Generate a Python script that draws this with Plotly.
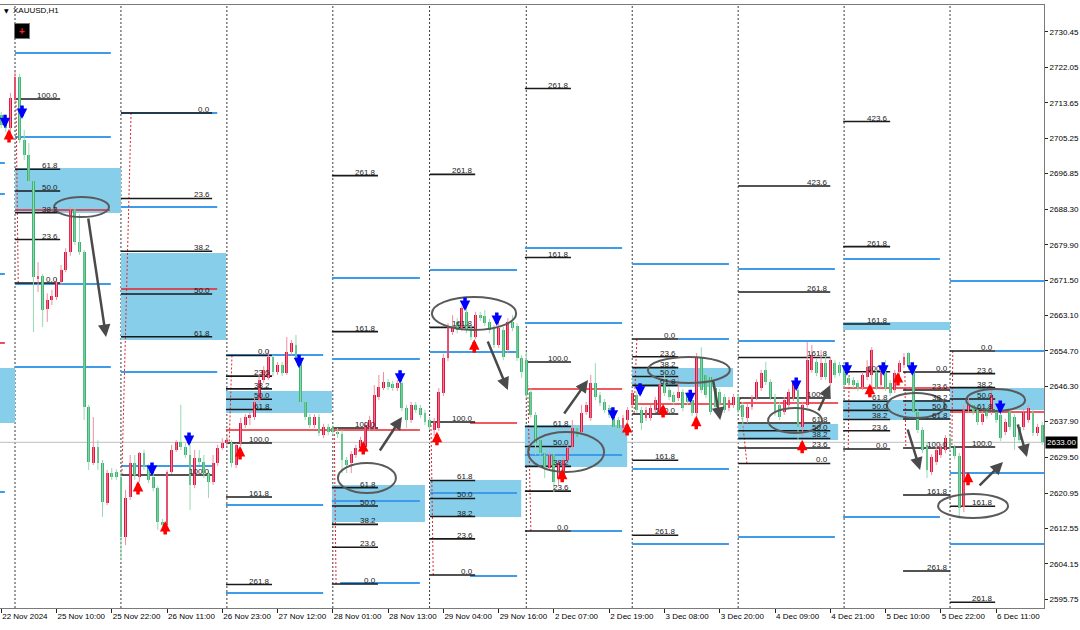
import plotly.graph_objects as go

# ---------------- candles: XAUUSD H1 (bar index 0 = 22 Nov 21:00) ----------------
opens = [
 2710.7, 2710.0, 2707.6, 2714.3, 2719.8, 2704.8, 2701.2, 2695.1, 2671.8, 2672.5,
 2664.7, 2666.8, 2667.5, 2671.1, 2673.9, 2678.2, 2688.2, 2680.6, 2678.2, 2641.4,
 2628.1, 2631.9, 2628.1, 2618.6, 2625.7, 2625.9, 2624.8, 2610.5, 2620.0, 2628.1,
 2624.8, 2630.4, 2627.1, 2624.8, 2622.1, 2614.1, 2613.4, 2625.9, 2631.2, 2633.1,
 2631.9, 2630.0, 2622.9, 2629.3, 2628.3, 2625.7, 2623.6, 2628.1, 2631.6, 2632.8,
 2632.8, 2627.6, 2632.8, 2637.1, 2638.8, 2639.0, 2643.0, 2647.8, 2648.3, 2653.3,
 2649.7, 2651.4, 2649.5, 2654.4, 2656.1, 2652.5, 2642.6, 2639.0, 2637.1, 2639.0,
 2634.7, 2636.6, 2636.4, 2635.5, 2635.0, 2628.8, 2628.1, 2630.0, 2631.6, 2631.9,
 2636.4, 2636.4, 2643.8, 2645.9, 2647.3, 2646.9, 2645.9, 2647.1, 2641.2, 2638.3,
 2641.9, 2641.2, 2640.0, 2638.3, 2635.9, 2636.4, 2644.7, 2653.0, 2659.2, 2661.6,
 2660.2, 2663.9, 2660.2, 2658.0, 2663.2, 2663.0, 2661.6, 2660.2, 2656.1, 2659.7,
 2654.9, 2661.6, 2660.6, 2653.0, 2652.5, 2645.0, 2639.5, 2633.5, 2630.4, 2626.9,
 2630.0, 2624.5, 2625.2, 2628.8, 2631.9, 2636.4, 2635.5, 2640.2, 2638.8, 2647.1,
 2644.2, 2642.6, 2641.2, 2640.0, 2638.3, 2636.4, 2638.3, 2641.9, 2644.2, 2640.7,
 2638.8, 2638.8, 2640.7, 2640.2, 2646.6, 2645.4, 2644.2, 2643.5, 2644.9, 2644.2,
 2643.0, 2640.0, 2653.0, 2649.0, 2648.5, 2645.9, 2644.9, 2643.8, 2641.2, 2641.9,
 2643.8, 2641.9, 2638.8, 2641.4, 2643.8, 2645.9, 2650.2, 2647.3, 2643.8, 2641.9,
 2640.2, 2641.9, 2643.5, 2645.4, 2636.6, 2641.9, 2650.2, 2652.1, 2648.5, 2651.8,
 2647.1, 2651.8, 2651.4, 2650.9, 2648.3, 2647.8, 2647.1, 2646.1, 2648.5, 2649.0,
 2649.5, 2646.6, 2649.7, 2647.1, 2645.4, 2649.7, 2651.4, 2654.2, 2650.2, 2640.2,
 2635.9, 2632.4, 2625.9, 2628.3, 2630.0, 2631.2, 2634.0, 2631.6, 2629.8, 2617.6,
 2640.7, 2641.9, 2640.7, 2637.8, 2641.2, 2640.2, 2640.7, 2639.5, 2635.5, 2640.2,
 2639.0, 2636.6, 2636.6, 2638.3, 2640.0, 2635.2, 2637.1]
closes = [
 2708.4, 2707.6, 2714.8, 2719.8, 2704.8, 2701.2, 2695.1, 2672.3, 2672.5, 2664.4,
 2666.8, 2667.8, 2671.1, 2673.9, 2678.2, 2688.2, 2680.6, 2678.2, 2641.4, 2628.3,
 2631.9, 2628.1, 2618.8, 2625.7, 2624.8, 2624.8, 2610.5, 2619.8, 2628.1, 2625.2,
 2630.4, 2627.1, 2624.1, 2622.1, 2614.1, 2613.4, 2625.9, 2631.2, 2633.1, 2631.9,
 2630.0, 2622.9, 2629.3, 2628.3, 2625.7, 2623.6, 2628.1, 2631.6, 2632.8, 2633.5,
 2628.1, 2632.4, 2637.6, 2639.0, 2639.5, 2642.6, 2647.8, 2650.2, 2653.3, 2649.7,
 2651.4, 2649.5, 2654.4, 2656.6, 2653.0, 2642.6, 2639.0, 2637.1, 2639.0, 2635.2,
 2636.6, 2635.5, 2635.5, 2635.0, 2628.8, 2627.6, 2630.2, 2631.6, 2633.5, 2637.1,
 2638.3, 2644.2, 2646.1, 2647.3, 2646.1, 2645.9, 2647.1, 2641.2, 2638.3, 2641.9,
 2640.7, 2639.5, 2637.8, 2636.6, 2637.8, 2644.9, 2653.0, 2660.2, 2660.4, 2659.7,
 2664.9, 2659.7, 2658.0, 2663.2, 2662.5, 2661.3, 2659.7, 2656.1, 2660.2, 2653.3,
 2661.6, 2660.2, 2653.0, 2649.7, 2644.2, 2639.5, 2632.8, 2630.4, 2627.1, 2630.0,
 2623.6, 2628.1, 2628.8, 2631.6, 2636.4, 2634.3, 2640.0, 2641.9, 2647.1, 2643.8,
 2642.3, 2640.7, 2639.5, 2636.6, 2636.4, 2638.8, 2640.7, 2644.7, 2640.7, 2637.6,
 2640.7, 2641.2, 2643.0, 2646.6, 2644.7, 2643.8, 2642.6, 2644.9, 2641.2, 2642.6,
 2640.0, 2653.0, 2645.4, 2644.2, 2640.2, 2641.4, 2642.3, 2640.7, 2643.0, 2643.8,
 2640.7, 2639.0, 2641.4, 2643.5, 2647.3, 2649.5, 2647.3, 2643.8, 2640.0, 2639.0,
 2643.0, 2644.9, 2647.1, 2636.6, 2641.9, 2652.5, 2653.7, 2649.5, 2651.8, 2648.5,
 2652.5, 2649.0, 2649.5, 2646.6, 2647.1, 2646.6, 2645.9, 2649.0, 2650.9, 2654.9,
 2646.1, 2649.5, 2645.9, 2644.7, 2649.5, 2651.8, 2653.3, 2650.9, 2640.2, 2635.9,
 2631.2, 2626.4, 2629.5, 2631.2, 2631.9, 2634.0, 2631.6, 2629.8, 2617.4, 2640.7,
 2642.1, 2640.2, 2637.8, 2639.7, 2639.3, 2644.2, 2638.3, 2634.0, 2637.8, 2636.6,
 2634.3, 2633.5, 2640.2, 2641.2, 2635.2, 2636.6, 2633.0]
highs = [
 2711.5, 2710.7, 2716.0, 2721.0, 2720.5, 2707.2, 2704.1, 2695.3, 2675.8, 2673.0,
 2668.4, 2669.2, 2672.0, 2675.1, 2679.1, 2688.9, 2688.9, 2687.2, 2678.7, 2641.9,
 2639.0, 2633.5, 2628.8, 2626.4, 2626.9, 2626.6, 2625.9, 2621.7, 2630.0, 2630.0,
 2630.7, 2631.2, 2627.9, 2625.9, 2622.6, 2614.8, 2626.4, 2632.4, 2633.5, 2641.9,
 2632.8, 2632.4, 2631.2, 2631.2, 2630.0, 2626.4, 2630.0, 2632.4, 2634.0, 2634.5,
 2633.5, 2632.8, 2638.8, 2639.7, 2640.2, 2643.5, 2649.0, 2651.1, 2654.9, 2653.7,
 2652.1, 2652.1, 2658.0, 2657.3, 2658.5, 2653.0, 2643.0, 2639.7, 2639.7, 2639.7,
 2637.4, 2637.4, 2637.1, 2636.4, 2635.9, 2629.5, 2630.9, 2632.4, 2634.3, 2637.8,
 2639.3, 2646.6, 2649.0, 2649.7, 2648.0, 2647.6, 2647.8, 2647.6, 2641.9, 2642.6,
 2642.6, 2641.9, 2640.7, 2639.0, 2638.8, 2645.9, 2654.0, 2661.3, 2663.2, 2662.5,
 2665.4, 2664.7, 2660.9, 2664.0, 2664.0, 2664.4, 2662.3, 2660.9, 2661.6, 2660.4,
 2662.5, 2663.2, 2661.3, 2653.7, 2654.4, 2645.7, 2640.2, 2634.3, 2631.2, 2630.7,
 2630.7, 2628.8, 2629.5, 2632.4, 2638.3, 2637.1, 2641.9, 2642.6, 2649.0, 2651.8,
 2645.0, 2643.3, 2641.9, 2640.7, 2639.0, 2639.5, 2641.4, 2645.4, 2645.0, 2641.4,
 2641.4, 2641.9, 2643.8, 2647.3, 2650.2, 2646.1, 2645.0, 2648.3, 2645.7, 2645.0,
 2643.8, 2654.2, 2655.6, 2649.7, 2649.2, 2646.6, 2645.7, 2644.5, 2643.8, 2644.5,
 2644.5, 2642.6, 2642.1, 2644.2, 2648.0, 2650.2, 2652.1, 2648.0, 2644.5, 2642.6,
 2643.8, 2645.7, 2647.8, 2647.1, 2642.6, 2656.8, 2656.1, 2652.8, 2654.9, 2654.4,
 2653.3, 2652.5, 2652.1, 2652.1, 2649.0, 2648.5, 2647.8, 2649.7, 2652.5, 2655.6,
 2650.2, 2650.2, 2652.5, 2647.8, 2650.2, 2652.5, 2654.2, 2654.4, 2650.9, 2640.9,
 2636.6, 2633.1, 2630.2, 2631.9, 2632.6, 2634.7, 2634.7, 2632.4, 2630.5, 2641.9,
 2643.5, 2642.6, 2641.4, 2640.4, 2641.9, 2645.4, 2641.4, 2640.2, 2638.6, 2640.9,
 2639.7, 2637.4, 2640.9, 2641.9, 2640.7, 2637.4, 2637.8]
lows = [
 2707.6, 2706.7, 2706.7, 2713.8, 2704.1, 2700.0, 2694.1, 2659.2, 2668.7, 2660.4,
 2661.6, 2665.6, 2666.8, 2670.4, 2673.4, 2677.3, 2679.9, 2677.5, 2638.3, 2626.4,
 2627.6, 2626.4, 2615.3, 2618.1, 2624.1, 2624.1, 2605.0, 2608.6, 2619.3, 2624.1,
 2623.6, 2626.4, 2623.3, 2621.4, 2612.2, 2612.6, 2612.6, 2625.5, 2630.7, 2631.2,
 2629.3, 2616.9, 2622.1, 2627.6, 2624.5, 2619.8, 2622.9, 2627.4, 2631.2, 2632.1,
 2627.1, 2626.9, 2632.1, 2636.4, 2637.1, 2638.3, 2642.3, 2647.1, 2647.8, 2648.7,
 2649.0, 2648.7, 2649.0, 2653.7, 2652.5, 2641.9, 2638.3, 2636.4, 2636.4, 2634.5,
 2634.0, 2634.7, 2634.7, 2634.0, 2625.7, 2625.7, 2625.7, 2629.3, 2630.7, 2630.7,
 2635.7, 2635.9, 2643.0, 2645.4, 2645.4, 2645.2, 2645.2, 2640.4, 2636.4, 2637.6,
 2640.0, 2638.8, 2637.1, 2635.9, 2634.5, 2635.7, 2644.0, 2652.3, 2658.5, 2658.9,
 2659.4, 2658.9, 2657.3, 2657.5, 2661.8, 2660.6, 2658.9, 2655.4, 2655.4, 2652.5,
 2654.2, 2659.4, 2652.3, 2648.3, 2643.5, 2638.8, 2630.0, 2629.8, 2624.5, 2626.2,
 2621.2, 2622.9, 2624.5, 2628.1, 2631.2, 2633.5, 2634.7, 2639.5, 2638.1, 2643.0,
 2641.6, 2640.0, 2638.8, 2635.9, 2635.7, 2635.7, 2637.8, 2641.2, 2640.0, 2635.9,
 2638.1, 2638.1, 2640.0, 2639.7, 2644.0, 2643.0, 2641.9, 2642.8, 2640.4, 2641.9,
 2639.3, 2638.8, 2644.7, 2643.5, 2639.5, 2640.7, 2641.6, 2640.0, 2640.4, 2641.2,
 2640.0, 2636.6, 2637.6, 2640.7, 2643.0, 2645.2, 2646.6, 2643.0, 2639.3, 2638.3,
 2639.5, 2641.2, 2642.8, 2633.5, 2634.3, 2641.2, 2649.5, 2648.7, 2647.8, 2647.8,
 2646.4, 2648.3, 2648.7, 2645.9, 2646.4, 2645.9, 2645.2, 2645.4, 2647.8, 2645.0,
 2645.4, 2645.9, 2645.2, 2644.0, 2644.7, 2649.0, 2650.7, 2650.2, 2639.5, 2635.2,
 2630.4, 2624.5, 2625.2, 2627.6, 2629.3, 2630.4, 2630.9, 2629.0, 2615.0, 2616.4,
 2640.0, 2639.5, 2637.1, 2637.1, 2638.6, 2639.5, 2637.6, 2633.3, 2634.7, 2635.9,
 2631.2, 2632.8, 2635.9, 2637.6, 2634.5, 2634.5, 2632.4]

# ---------------- axes ----------------
time_label_bars = [0, 12, 24, 36, 48, 60, 72, 84, 96, 108, 120, 132, 144, 156, 168, 180, 192, 204, 216]
time_labels = ["22 Nov 2024", "25 Nov 10:00", "25 Nov 22:00", "26 Nov 11:00", "26 Nov 23:00",
               "27 Nov 12:00", "28 Nov 01:00", "28 Nov 13:00", "29 Nov 04:00", "29 Nov 16:00",
               "2 Dec 07:00", "2 Dec 19:00", "3 Dec 08:00", "3 Dec 20:00", "4 Dec 09:00",
               "4 Dec 21:00", "5 Dec 10:00", "5 Dec 22:00", "6 Dec 11:00"]
price_ticks = [2730.45, 2722.05, 2713.65, 2705.25, 2696.85, 2688.30, 2679.90, 2671.50, 2663.10,
               2654.70, 2646.30, 2637.90, 2629.50, 2620.95, 2612.55, 2604.15, 2595.75]
x_range = [-0.26, 226.4]
y_range = [2593.65, 2736.86]
day_start_bars = [3, 26, 49, 72, 93, 114, 137, 160, 183, 206]
bid_price = 2633.00

# ---------------- Fibonacci tools ----------------
fib_x0 = [3.0, 26.0, 48.8, 71.8, 93.1, 113.7, 137.0, 160.0, 182.8, 195.8, 206.0]
fib_x1 = [12.8, 45.8, 58.8, 81.8, 102.9, 123.7, 147.0, 180.0, 193.0, 206.0, 215.8]
fib_p0 = [2670.84, 2711.21, 2653.62, 2599.35, 2601.49, 2611.94, 2657.54, 2627.97, 2631.41, 2649.70, 2654.69]
fib_p100 = [2714.54, 2625.24, 2632.84, 2636.40, 2637.83, 2652.08, 2639.73, 2643.53, 2649.77, 2631.65, 2631.89]
lv_a = [0, 23.6, 38.2, 50, 61.8, 100]
lv_b = [0, 23.6, 38.2, 50, 61.8, 100, 161.8, 261.8]
lv_c = [0, 23.6, 38.2, 50, 61.8, 100, 161.8, 261.8, 423.6]
fib_levels = [lv_a, lv_a, lv_b, lv_b, lv_b, lv_b, lv_b, lv_c, lv_c, lv_b, lv_b]
fib_trend_x0 = [3.7, 28.2, 50.1, 72.7, 93.8, 115.0, 138.0, 161.9, 183.9, 196.2, 206.6]
fib_trend_x1 = [3.2, 26.2, 49.5, 72.3, 93.3, 114.2, 137.4, 160.4, 184.1, 196.4, 206.4]

# ---------------- horizontal blue levels ----------------
blue_x0 = [-0.3, -0.3, -0.3, -0.3,
           3.0, 3.0, 3.0, 3.0,
           26.0, 26.0, 26.0, 26.0,
           48.8, 48.8, 48.8,
           71.8, 71.8, 71.8, 73.6,
           93.1, 93.1, 93.1, 101.8,
           113.7, 113.7, 113.7, 123.7,
           137.0, 147.0, 137.0, 137.0,
           160.0, 160.0, 160.0,
           182.8, 182.8,
           206.0, 215.8, 206.0, 206.0]
blue_x1 = [0.8, 0.8, 0.8, 0.8,
           23.8, 23.8, 23.8, 23.8,
           46.9, 46.9, 46.9, 46.4,
           69.9, 69.9, 69.9,
           90.9, 90.9, 90.9, 90.9,
           112.0, 112.0, 112.0, 112.0,
           134.8, 134.8, 134.8, 134.8,
           158.0, 158.0, 158.0, 158.0,
           181.0, 181.0, 181.0,
           203.8, 203.8,
           226.4, 226.4, 226.4, 226.4]
blue_p = [2699.34, 2691.98, 2672.97, 2621.20,
          2725.46, 2705.51, 2670.60, 2650.89,
          2711.21, 2688.89, 2649.70, 2627.38,
          2653.74, 2618.11, 2597.21,
          2672.03, 2652.79, 2619.06, 2599.59,
          2673.93, 2654.45, 2620.96, 2601.25,
          2679.15, 2661.34, 2629.99, 2611.94,
          2675.35, 2657.54, 2626.66, 2608.85,
          2674.16, 2657.06, 2610.51,
          2676.54, 2615.26,
          2671.31, 2654.69, 2625.71, 2608.85]

# ---------------- blue zones ----------------
zone_x0 = [-0.3, 3.0, 26.0, 48.8, 71.8, 93.1, 113.7, 137.0, 160.0, 182.8, 182.8, 206.0]
zone_x1 = [3.0, 26.0, 48.8, 71.8, 92.0, 112.9, 135.9, 158.9, 181.7, 206.0, 206.0, 226.4]
zone_top = [2650.65, 2698.15, 2677.96, 2645.19, 2622.86, 2624.05, 2637.11, 2650.65, 2637.35, 2661.58, 2643.05, 2645.90]
zone_bottom = [2637.59, 2687.46, 2657.30, 2639.96, 2614.08, 2615.26, 2627.14, 2646.14, 2633.55, 2659.68, 2638.30, 2640.68]

# ---------------- red levels ----------------
red_x0 = [-0.3, 3.0, 26.0, 48.8, 101.8, 113.7, 137.0, 160.0, 182.8, 206.0]
red_x1 = [0.8, 23.6, 46.9, 90.9, 112.0, 134.8, 158.9, 181.7, 206.0, 226.4]
red_p = [2656.59, 2688.18, 2669.41, 2635.93, 2637.59, 2645.66, 2642.10, 2642.34, 2645.90, 2640.20]

# ---------------- ellipses ----------------
ell_x0 = [11.5, 73.1, 93.5, 114.4, 140.4, 166.5, 192.3, 209.5, 203.4]
ell_x1 = [23.4, 85.7, 111.8, 130.9, 158.2, 178.2, 204.9, 222.3, 218.6]
ell_top = [2691.26, 2628.09, 2667.51, 2635.45, 2653.26, 2641.15, 2644.71, 2645.66, 2620.73]
ell_bottom = [2686.51, 2620.96, 2659.68, 2625.95, 2647.09, 2635.21, 2638.78, 2640.44, 2615.02]

# ---------------- grey trend arrows (tail -> head) ----------------
arr_x0 = [18.85, 82.0, 105.5, 122.0, 154.5, 177.3, 196.7, 212.1, 220.6]
arr_p0 = [2686.51, 2630.70, 2657.30, 2639.49, 2648.04, 2640.20, 2636.40, 2622.39, 2637.59]
arr_x1 = [22.76, 87.0, 110.0, 127.4, 156.1, 180.0, 199.5, 217.5, 222.7]
arr_p1 = [2658.01, 2639.01, 2645.43, 2647.80, 2638.30, 2646.61, 2626.43, 2628.33, 2629.51]

# ---------------- signal arrows ----------------
sell_bar = [0.83, 4.52, 32.74, 40.78, 64.66, 86.6, 100.7, 107.6, 132.8, 138.7, 149.6, 172.6, 183.6, 191.5, 197.8, 216.9]
sell_price = [2707.6, 2709.8, 2625.0, 2632.1, 2650.6, 2646.9, 2664.2, 2660.6, 2638.1, 2643.8, 2642.3, 2645.2, 2648.8, 2648.8, 2648.8, 2639.7]
buy_bar = [1.70, 29.7, 35.6, 51.85, 78.6, 94.6, 102.7, 121.8, 135.9, 143.7, 150.9, 173.9, 188.6, 194.7, 209.9]
buy_price = [2707.4, 2623.8, 2614.3, 2632.1, 2633.3, 2635.5, 2657.5, 2626.7, 2637.8, 2642.1, 2639.3, 2633.6, 2646.9, 2649.7, 2626.0]

# =====================================================================
UP_BODY, DN_BODY = "#dc143c", "#3cb371"
UP_WICK, DN_WICK = "#ee8fa3", "#97d9b2"
FONT = "Liberation Sans, Arial, sans-serif"

n = len(closes)
fig = go.Figure()

up_idx = [i for i in range(n) if closes[i] >= opens[i]]
dn_idx = [i for i in range(n) if closes[i] < opens[i]]


def wick_xy(ids):
    xs, ys = [], []
    for i in ids:
        hi = max(highs[i], opens[i], closes[i])
        lo = min(lows[i], opens[i], closes[i])
        xs += [i, i, None]
        ys += [lo, hi, None]
    return xs, ys


for ids, col in ((up_idx, UP_WICK), (dn_idx, DN_WICK)):
    wx, wy = wick_xy(ids)
    fig.add_trace(go.Scatter(x=wx, y=wy, mode="lines", line=dict(color=col, width=1),
                             hoverinfo="skip"))

for ids, col in ((up_idx, UP_BODY), (dn_idx, DN_BODY)):
    fig.add_trace(go.Bar(
        x=ids,
        base=[min(opens[i], closes[i]) for i in ids],
        y=[max(abs(closes[i] - opens[i]), 0.3) for i in ids],
        width=0.62,
        marker=dict(color=col, line=dict(width=0)),
        hoverinfo="skip"))

shapes = []
for a, b, t, bt in zip(zone_x0, zone_x1, zone_top, zone_bottom):
    shapes.append(dict(type="rect", xref="x", yref="y", x0=a, x1=b, y0=bt, y1=t,
                       fillcolor="#87ceeb", line=dict(width=0), layer="below"))
for s in day_start_bars:
    shapes.append(dict(type="line", xref="x", yref="paper", x0=s, x1=s, y0=0, y1=1,
                       line=dict(color="#3a3a3a", width=1, dash="2px,2px"), layer="below"))
shapes.append(dict(type="line", xref="paper", yref="y", x0=0, x1=1, y0=bid_price, y1=bid_price,
                   line=dict(color="#bdbdbd", width=1), layer="below"))
for a, b, p in zip(blue_x0, blue_x1, blue_p):
    shapes.append(dict(type="line", xref="x", yref="y", x0=a, x1=b, y0=p, y1=p,
                       line=dict(color="#3d9be9", width=2), layer="below"))
for a, b, p in zip(red_x0, red_x1, red_p):
    shapes.append(dict(type="line", xref="x", yref="y", x0=a, x1=b, y0=p, y1=p,
                       line=dict(color="#e8232b", width=1.6), layer="below"))
annotations = []
for k in range(len(fib_x0)):
    p0, p100 = fib_p0[k], fib_p100[k]
    shapes.append(dict(type="line", xref="x", yref="y", x0=fib_trend_x0[k], x1=fib_trend_x1[k],
                       y0=p0, y1=p100, line=dict(color="#e8232b", width=1, dash="2px,2px"),
                       layer="below"))
    for lv in fib_levels[k]:
        p = p0 + (p100 - p0) * lv / 100.0
        shapes.append(dict(type="line", xref="x", yref="y", x0=fib_x0[k], x1=fib_x1[k],
                           y0=p, y1=p, line=dict(color="#1a1a1a", width=1.6), layer="below"))
        annotations.append(dict(x=fib_x1[k], y=p, xref="x", yref="y", text=f"{lv:.1f}",
                                showarrow=False, xanchor="right", yanchor="bottom", yshift=-3,
                                font=dict(family=FONT, size=8, color="#1a1a1a")))
for a, b, t, bt in zip(ell_x0, ell_x1, ell_top, ell_bottom):
    shapes.append(dict(type="circle", xref="x", yref="y", x0=a, x1=b, y0=bt, y1=t,
                       line=dict(color="#5a5a5a", width=2)))

for a, pa, b, pb in zip(arr_x0, arr_p0, arr_x1, arr_p1):
    annotations.append(dict(x=b, y=pb, ax=a, ay=pa, xref="x", yref="y", axref="x", ayref="y",
                            text="", showarrow=True, arrowhead=2, arrowsize=1, arrowwidth=2.5,
                            arrowcolor="#4a4a4a", standoff=0))
for b, p in zip(sell_bar, sell_price):
    annotations.append(dict(x=b, y=p, xref="x", yref="y", ax=0, ay=-15, text="",
                            showarrow=True, arrowhead=2, arrowsize=0.6, arrowwidth=3.5,
                            arrowcolor="#0000ff", standoff=0))
for b, p in zip(buy_bar, buy_price):
    annotations.append(dict(x=b, y=p, xref="x", yref="y", ax=0, ay=15, text="",
                            showarrow=True, arrowhead=2, arrowsize=0.6, arrowwidth=3.5,
                            arrowcolor="#ff0000", standoff=0))

annotations.append(dict(xref="paper", yref="paper", x=0.002, y=0.991, text="▼",
                        showarrow=False, xanchor="left", yanchor="middle",
                        font=dict(family="DejaVu Sans", size=6, color="black")))
annotations.append(dict(xref="paper", yref="paper", x=0.0105, y=0.991, text="XAUUSD,H1",
                        showarrow=False, xanchor="left", yanchor="middle",
                        font=dict(family=FONT, size=8, color="black")))
annotations.append(dict(xref="paper", yref="paper", x=0.021, y=0.957, text="<b>+</b>",
                        showarrow=False, xanchor="center", yanchor="middle",
                        width=12, height=12, bgcolor="black", bordercolor="#777", borderwidth=1,
                        font=dict(family=FONT, size=10, color="#ff2020")))
annotations.append(dict(xref="paper", yref="y", x=1, y=bid_price, text=f"{bid_price:.2f}",
                        showarrow=False, xanchor="left", yanchor="middle", xshift=1,
                        bgcolor="black", borderpad=1,
                        font=dict(family=FONT, size=8, color="white")))

fig.update_layout(
    width=1080, height=630,
    margin=dict(l=0, r=36, t=5, b=22, pad=0, autoexpand=False),
    paper_bgcolor="white", plot_bgcolor="white",
    showlegend=False, barmode="overlay", bargap=0,
    shapes=shapes, annotations=annotations,
)
fig.update_xaxes(range=x_range, tickmode="array", tickvals=time_label_bars, ticktext=time_labels,
                 tickangle=0, automargin=False,
                 ticks="outside", ticklen=4, tickcolor="#222", showgrid=False, zeroline=False,
                 showline=True, linecolor="#7a7a7a", linewidth=1, mirror=True,
                 ticklabelposition="outside right",
                 tickfont=dict(family=FONT, size=8, color="black"))
fig.update_yaxes(range=y_range, side="right", tickmode="array", tickvals=price_ticks,
                 ticktext=[f"{v:.2f}" for v in price_ticks], automargin=False,
                 ticks="outside", ticklen=3, tickcolor="#222", showgrid=False, zeroline=False,
                 showline=True, linecolor="#7a7a7a", linewidth=1, mirror=True,
                 tickfont=dict(family=FONT, size=8, color="black"))

fig.write_html("out.html", config={"displayModeBar": False},
               post_script="document.body.style.margin='0';document.body.style.overflow='hidden';")
